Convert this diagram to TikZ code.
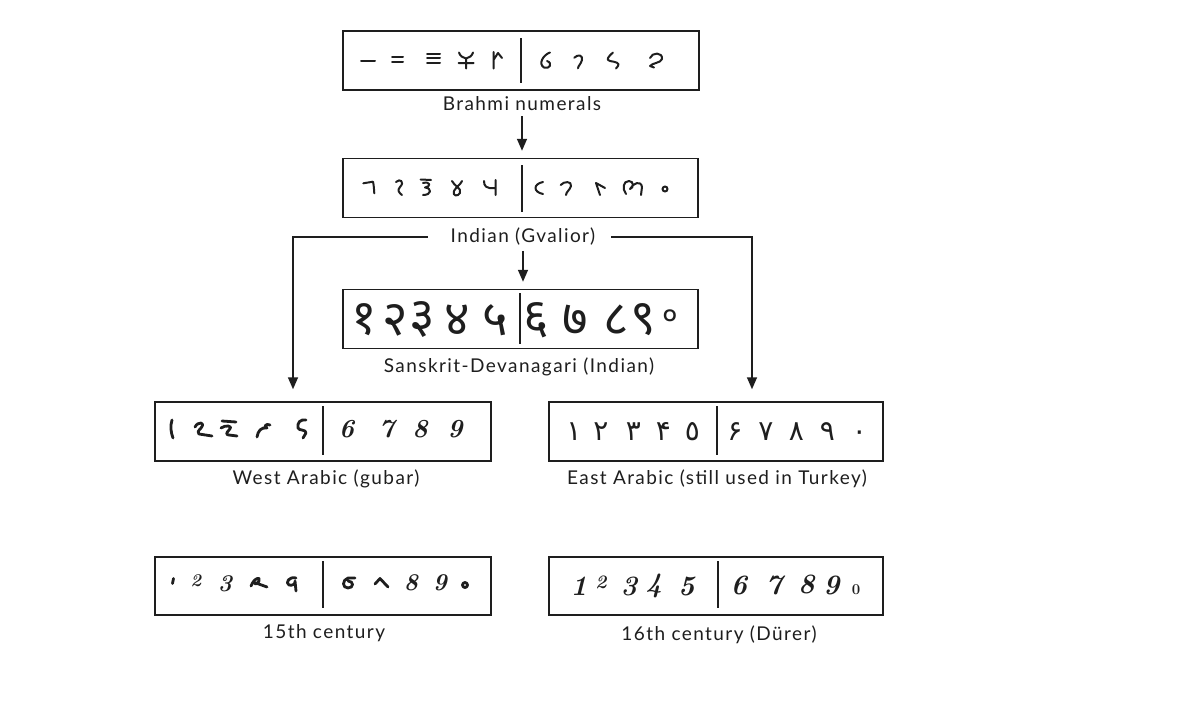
\documentclass[tikz,border=0pt]{standalone}
\usepackage{fontspec}
\newfontfamily\labfont[LetterSpace=7.5]{Lato}
\newfontfamily\devfont[Script=Devanagari]{Noto Sans}
\newfontfamily\arabfont[Script=Arabic]{DejaVu Sans}
\usetikzlibrary{arrows.meta}
\definecolor{ink}{HTML}{1E1E1E}
\begin{document}
\begin{tikzpicture}[x=1pt,y=-1pt,
  numbox/.style={draw=ink, line width=1.5pt, minimum width=#1, minimum height=59pt, inner sep=0pt},
  lab/.style={font=\labfont\fontsize{19}{21}\selectfont, text=ink, inner sep=2pt},
  pen/.style={draw=ink, line width=2pt, line cap=round, line join=round},
  thickpen/.style={draw=ink, line width=2.8pt, line cap=round, line join=round},
  divline/.style={draw=ink, line width=1.6pt},
  arr/.style={draw=ink, line width=1.6pt, -{Triangle[length=12pt,width=10pt]}},
  dev/.style={font=\devfont\bfseries\fontsize{49}{49}\selectfont, text=ink, inner sep=0pt},
  arab/.style={font=\arabfont\fontsize{28}{28}\selectfont, text=ink, inner sep=0pt, anchor=base},
  hand/.style={font=\rmfamily\bfseries\itshape\fontsize{26}{26}\selectfont, text=ink, inner sep=0pt},
  durer/.style={font=\rmfamily\bfseries\itshape\fontsize{28}{28}\selectfont, text=ink, inner sep=0pt}
]
\useasboundingbox (0,0) rectangle (1200,720);
\fill[white] (0,0) rectangle (1200,720);

% boxes
\node[numbox=356pt] (b1) at (521,60.5) {};
\node[numbox=355pt] (b2) at (520.5,188) {};
\node[numbox=355pt] (b3) at (520.5,319) {};
\node[numbox=336pt] (b4) at (323,431.5) {};
\node[numbox=334pt] (b5) at (716,431.5) {};
\node[numbox=336pt, minimum height=58pt] (b6) at (323,586) {};
\node[numbox=334pt, minimum height=58pt] (b7) at (716,586) {};

% labels
\node[lab] (l1) at (522,104) {Brahmi numerals};
\node[lab] (l2) at (523,237) {Indian (Gvalior)};
\node[lab] (l3) at (519,367) {Sanskrit-Devanagari (Indian)};
\node[lab] (l4) at (326,479) {West Arabic (gubar)};
\node[lab] (l5) at (717,479) {East Arabic (still used in Turkey)};
\node[lab] (l6) at (324,633) {15th century};
\node[lab] (l7) at (719,635) {16th century (Dürer)};

% connectors
\draw[arr, shorten <=3pt, shorten >=7pt] (l1.south) -- (l1.south |- b2.north);
\draw[arr, shorten <=3pt, shorten >=7pt] (l2.south) -- (l2.south |- b3.north);
\draw[arr, shorten <=21pt, shorten >=12pt] (l2.west) -| ([xshift=-30pt]b4.north);
\draw[arr, shorten <=14pt, shorten >=12pt] (l2.east) -| ([xshift=36pt]b5.north);

% dividers
\draw[divline] (521,38) -- (521,83);
\draw[divline] (522,165) -- (522,212);
\draw[divline] (520,293) -- (520,344);
\draw[divline] (323,406) -- (323,455);
\draw[divline] (717,406) -- (717,455);
\draw[divline] (323,561) -- (323,608);
\draw[divline] (718,561) -- (718,608);

% Brahmi numerals
\draw[pen] (361,61) -- (375,61);
\draw[pen] (392,57.3) -- (403,57.3) (392,61.8) -- (403,61.8);
\draw[pen] (427,53.5) -- (440,53.5) (427,58) -- (440,58) (427,62.5) -- (440,62.5);
\draw[pen] (459,52.5) .. controls (460,56) and (463,58) .. (466,58.5) .. controls (469,58) and (472,56) .. (473,52.5) (466,58.5) -- (466,68.5) (458.5,63) -- (473.5,63);
\draw[pen] (493.5,52) -- (493.5,68.5) (493.5,60) -- (498,53) -- (502,58);
\draw[pen] (550,52.5) .. controls (543,55) and (538,64) .. (544,67.5) .. controls (550,69.5) and (553,63) .. (547,61);
\draw[pen] (574.3,57.7) .. controls (578,54) and (583,55) .. (582,60) .. controls (581,64) and (578,66) .. (578,68.3);
\draw[pen] (613,52.5) .. controls (609,56) and (605,60) .. (610,61) .. controls (616,62) and (620,63) .. (618,66) -- (616,68.5);
\draw[pen] (650,58) .. controls (652,52) and (663,52) .. (662,59) .. controls (661,63) and (652,63) .. (650,66) -- (654,67.5);

% Indian (Gvalior)
\draw[pen] (363.3,183.3) -- (373,181.7) .. controls (374,186) and (374,190) .. (374.3,193.3);
\draw[pen] (396,182) .. controls (400,178) and (405,182) .. (400,187) .. controls (397,190) and (399,193) .. (402,195);
\draw[pen] (420.7,179.5) -- (431,180) (423,183) .. controls (431,181) and (431,187) .. (425,187.5) .. controls (432,188) and (432,195) .. (423,195);
\draw[pen] (452,181) .. controls (454,186) and (462,188) .. (460,193) .. controls (458,197) and (452,196) .. (454,191) .. controls (456,187) and (461,184) .. (462,181);
\draw[pen] (484,181) .. controls (484,186) and (486,189) .. (495,188) (495.7,180) -- (495.7,195);
\draw[pen] (543,182) .. controls (533,184) and (533,192) .. (543,194);
\draw[pen] (560.7,185) .. controls (564,181) and (572,181) .. (571,186) .. controls (570,190) and (566,192) .. (566,195);
\draw[pen] (600,195) -- (596,183) -- (605,188);
\draw[pen] (626,194) .. controls (622,189) and (623,181) .. (629,181) .. controls (634,181) and (634,188) .. (630,189) (630,189) .. controls (633,183) and (641,180) .. (642,187) -- (641,195);
\draw[pen] (665,189) circle[radius=2.5pt];

% Sanskrit-Devanagari
\node[dev] at (364.5,320) {१};
\node[dev] at (395,320) {२};
\node[dev] at (422.5,320) {३};
\node[dev] at (457.5,320) {४};
\node[dev] at (495.5,320) {५};
\node[dev] at (536.5,320) {६};
\node[dev] at (575,320) {७};
\node[dev] at (616,320) {८};
\node[dev] at (643,320) {९};
\node[dev, font=\devfont\bfseries\fontsize{30}{30}\selectfont] at (670,318) {०};

% West Arabic (gubar)
\draw[thickpen] (172,420) .. controls (170,426) and (171,433) .. (173,438);
\draw[thickpen] (195,427) .. controls (198,421) and (206,422) .. (201,428) .. controls (198,431) and (197,433) .. (199,434) -- (212,436);
\draw[thickpen] (222,421) -- (236,422) (221,428) .. controls (225,425) and (234,425) .. (229,430) .. controls (226,433) and (226,435) .. (229,435) -- (237,436);
\draw[thickpen] (257,437) .. controls (258,431) and (261,427) .. (267,428) (270,425) .. controls (266,423) and (263,427) .. (267,428);
\draw[thickpen] (306,420) .. controls (300,419) and (297,423) .. (298,428) .. controls (299,431) and (306,429) .. (306,433) -- (303,438);
\node[hand] at (346.5,429) {6};
\node[hand] at (386.5,429) {7};
\node[hand] at (420,429) {8};
\node[hand] at (455,429) {9};

% East Arabic
\node[arab] at (574,440) {١};
\node[arab] at (601,440) {٢};
\node[arab] at (633.5,440) {٣};
\node[arab] at (663.5,440) {۴};
\node[arab] at (692.5,440) {٥};
\node[arab] at (735,440) {۶};
\node[arab] at (766,440) {٧};
\node[arab] at (796.5,440) {٨};
\node[arab] at (827.5,440) {٩};
\node[arab] at (859.5,440) {٠};

% 15th century
\draw[thickpen] (173.5,578.5) -- (172.5,583.5);
\node[hand, font=\rmfamily\bfseries\itshape\fontsize{18}{18}\selectfont] at (196,581) {2};
\node[hand, font=\rmfamily\bfseries\itshape\fontsize{24}{24}\selectfont] at (225,584) {3};
\draw[thickpen] (251,586) .. controls (254,578) and (261,576) .. (259,581) .. controls (257,585) and (253,584) .. (256,583) -- (267,587);
\draw[thickpen] (296,578) .. controls (289,576) and (285,583) .. (289,585) .. controls (292,586) and (296,584) .. (295,581) -- (296,591);
\draw[thickpen] (355,578) -- (348,578) .. controls (342,580) and (342,588) .. (348,588) .. controls (354,588) and (354,581) .. (348,581);
\draw[thickpen] (375,584) -- (380,578.5) -- (388,587);
\node[hand, font=\rmfamily\bfseries\itshape\fontsize{24}{24}\selectfont] at (411,583) {8};
\node[hand, font=\rmfamily\bfseries\itshape\fontsize{24}{24}\selectfont] at (440,583) {9};
\draw[thickpen] (465,585) circle[radius=2.5pt];

% 16th century (Duerer)
\node[durer] at (579,586) {1};
\node[durer, font=\rmfamily\bfseries\itshape\fontsize{19}{19}\selectfont] at (601,582) {2};
\node[durer] at (629,586) {3};
\node[durer] at (654,586) {4};
\node[durer] at (686.5,586) {5};
\node[durer] at (739,585) {6};
\node[durer] at (774,585) {7};
\node[durer] at (806.5,584) {8};
\node[durer] at (831.5,585) {9};
\node[durer, font=\rmfamily\bfseries\fontsize{15}{15}\selectfont] at (856,590) {0};
\end{tikzpicture}
\end{document}
